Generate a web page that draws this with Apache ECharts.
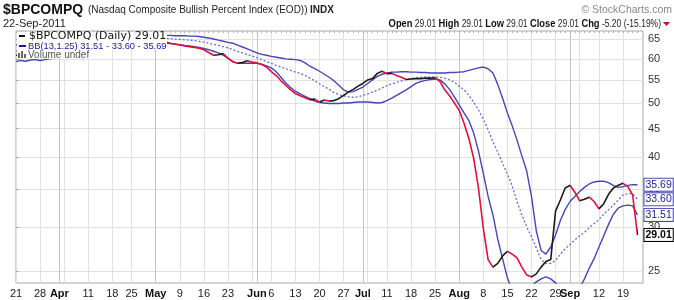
<!DOCTYPE html>
<html>
<head>
<meta charset="utf-8">
<title>$BPCOMPQ</title>
<script src="https://cdn.jsdelivr.net/npm/echarts@6.0.0/dist/echarts.min.js"></script>
<style>
  html, body { margin: 0; padding: 0; background: #fff; }
  #chart { width: 674px; height: 300px; }
</style>
</head>
<body>
<div id="chart"></div>
<script>
// trading-day index -> label (Mar 21 .. Sep 22, 2011)
var tickIdx  = [0, 5, 9, 15, 20, 24, 29, 34, 39, 44, 50, 53, 58, 63, 68, 72, 77, 82, 87, 92, 97, 102, 107, 112, 115, 121, 126];
var tickText = ['21', '28', 'Apr', '11', '18', '25', 'May', '9', '16', '23', 'Jun', '6', '13', '20', '27', 'Jul', '11', '18', '25', 'Aug', '8', '15', '22', '29', 'Sep', '12', '19'];
var weekIdx  = [0, 5, 10, 15, 20, 24, 29, 34, 39, 44, 49, 53, 58, 63, 68, 73, 77, 82, 87, 92, 97, 102, 107, 112, 117, 121, 126];
var monthIdx = [9, 29, 50, 72, 92, 115];
var yTicks   = [25, 30, 35, 40, 45, 50, 55, 60, 65];

var price = [
  60.8, 61.2, 61.5, 62.0, 62.5, 62.9, 63.3, 63.6, 63.9, 64.2,
  64.3, 64.5, 64.4, 64.6, 64.8, 64.7, 64.9, 65.0, 64.8, 64.9,
  64.7, 64.9, 65.0, 65.1, 65.0, 64.9, 65.0, 64.8, 64.7,
  64.6, 64.5, 64.4, 64.0, 63.7, 63.5, 63.3, 63.1, 62.9, 62.7,
  62.3, 61.6, 60.9, 61.0, 61.3, 60.2, 59.3, 58.9, 59.1, 59.5,
  59.2, 59.0, 58.6, 58.0, 56.9, 56.0, 54.8, 53.8, 52.8, 52.0,
  51.5, 51.1, 50.7, 50.8, 50.2, 50.6, 50.4, 50.5, 50.9, 51.6,
  52.3, 52.9, 53.6, 54.2, 55.0, 55.3, 56.5, 57.0, 56.4, 56.5,
  56.0, 55.6, 55.1, 55.2, 55.3, 55.3, 55.4, 55.4, 55.5, 54.6,
  52.8, 51.5, 50.0, 48.5, 46.0, 43.2, 39.8, 35.2, 29.8, 26.2,
  25.4, 25.8, 26.6, 27.1, 26.8, 26.4, 25.4, 24.6, 24.4, 24.7,
  25.4, 26.0, 26.2, 32.0, 33.5, 35.2, 35.6, 34.6, 33.4, 33.6,
  33.9, 33.3, 32.3, 33.0, 34.3, 35.2, 35.6, 35.9, 35.4, 34.21, 29.01
];
var bbUpper = [
  63.5, 63.8, 64.0, 64.2, 64.5, 64.8, 65.1, 65.4, 65.6, 65.8,
  66.0, 66.1, 66.2, 66.2, 66.3, 66.3, 66.4, 66.4, 66.4, 66.3,
  66.3, 66.3, 66.3, 66.2, 66.2, 66.2, 66.1, 66.1, 66.1, 66.1, 66.1,
  66.1, 66.1, 66.0, 66.0, 66.0, 65.9, 65.9, 65.8, 65.6, 65.4,
  65.1, 64.8, 64.5, 64.2, 64.0, 63.5, 63.0, 62.5, 62.0, 61.5,
  61.1, 60.9, 60.6, 60.4, 60.2, 60.0, 59.9, 59.8, 59.6, 59.0,
  58.2, 57.6, 57.0, 56.3, 55.6, 54.8, 53.8, 52.8, 52.3, 52.4,
  52.9, 53.4, 54.2, 55.0, 55.8, 56.3, 56.6, 56.8, 56.8, 56.9,
  56.9, 56.8, 56.8, 56.7, 56.7, 56.6, 56.6, 56.6, 56.6, 56.7,
  56.7, 56.8, 56.9, 57.2, 57.5, 57.8, 58.0, 57.6, 56.6, 54.0,
  51.0, 48.0, 45.5, 42.9, 40.2, 37.8, 34.0, 29.5, 27.2, 26.8,
  27.6, 29.0, 30.8, 32.2, 33.3, 34.0, 34.7, 35.3, 35.8, 36.1,
  36.2, 36.2, 36.0, 35.6, 35.3, 35.4, 35.6, 35.7, 35.69
];
var bbMiddle = [
  62.0, 62.3, 62.6, 62.9, 63.2, 63.5, 63.8, 64.0, 64.3, 64.5,
  64.7, 64.9, 65.0, 65.1, 65.2, 65.3, 65.3, 65.4, 65.4, 65.4, 65.4,
  65.4, 65.4, 65.4, 65.4, 65.4, 65.4, 65.4, 65.4, 65.4, 65.3,
  65.3, 65.2, 65.1, 65.0, 64.9, 64.8, 64.7, 64.5, 64.3, 64.0,
  63.7, 63.4, 63.1, 62.8, 62.3, 61.9, 61.5, 61.1, 60.7, 60.3,
  59.8, 59.3, 58.9, 58.4, 58.0, 57.6, 57.2, 56.8, 56.5, 56.0,
  55.4, 54.8, 54.1, 53.5, 52.9, 52.2, 51.8, 51.5, 51.3, 51.2,
  51.3, 51.6, 51.9, 52.3, 52.7, 53.2, 53.7, 54.1, 54.4, 54.8,
  55.1, 55.3, 55.5, 55.6, 55.7, 55.7, 55.7, 55.6, 55.4, 55.0,
  54.5, 53.6, 52.8, 51.6, 50.2, 48.6, 46.8, 44.8, 42.6, 40.8,
  39.0, 37.3, 35.5, 33.3, 31.5, 30.0, 28.8, 27.5, 26.2, 25.8,
  25.8, 26.1, 26.8, 27.4, 27.9, 28.4, 28.9, 29.3, 29.9, 30.4,
  30.9, 31.6, 32.2, 32.8, 33.5, 34.2, 34.4, 34.4, 33.60
];
var bbLower = [
  59.3, 59.6, 59.4, 59.7, 59.8, 59.6, 59.8, 60.0, 60.2, 60.4,
  61.0, 61.6, 62.2, 62.6, 62.9, 63.2, 63.3, 63.5, 63.6, 63.7, 63.7,
  63.8, 63.8, 63.9, 63.9, 64.0, 64.0, 64.1, 64.1, 64.1, 64.1,
  64.0, 63.9, 63.8, 63.6, 63.4, 63.3, 63.1, 62.9, 62.6, 62.3,
  61.9, 61.5, 60.9, 60.1, 59.3, 58.9, 58.9, 58.9, 58.9, 58.9,
  58.7, 58.3, 57.8, 56.9, 55.6, 54.3, 53.3, 52.5, 51.9, 51.4,
  50.9, 50.4, 50.1, 50.0, 49.9, 49.9, 49.9, 50.0, 50.0, 50.1,
  50.2, 50.2, 50.2, 50.1, 50.0, 50.1, 50.5, 51.0, 51.6, 52.2,
  52.8, 53.5, 54.2, 54.6, 54.9, 55.1, 55.2, 55.0, 54.1, 52.9,
  51.3, 49.6, 48.0, 46.5, 44.2, 41.0, 37.4, 34.0, 31.5, 28.5,
  26.3, 24.3, 23.0, 22.4, 22.5, 23.0, 23.5, 23.9, 24.2, 24.4,
  24.2, 23.8, 23.2, 22.5, 22.2, 22.5, 23.3, 24.2, 25.3, 26.3,
  27.6, 28.9, 30.3, 31.6, 32.4, 32.7, 32.8, 32.7, 31.51
];

var RED = '#e0103a', BLACK = '#1a1a1a', BAND = '#4646b4', MID = '#6a6ad2';
var FONT = '"Liberation Sans", Arial, sans-serif';
var monthNames = ['Apr', 'May', 'Jun', 'Jul', 'Aug', 'Sep'];

function pairs(arr) {
  return arr.map(function (v, i) { return [i, v]; });
}
var dayIdx = price.map(function (v, i) { return i; });

// colour each price segment by direction (up black, down red)
var pieces = [];
for (var i = 1; i < price.length; i++) {
  var p = { gte: i - 1, color: price[i] < price[i - 1] ? RED : BLACK };
  if (i === price.length - 1) p.lte = i; else p.lt = i;
  pieces.push(p);
}

function tag(color, border, bold) {
  return {
    show: true,
    formatter: function (prm) { return prm.value[1].toFixed(2); },
    distance: 7,
    color: color,
    fontFamily: FONT,
    fontSize: 10.5,
    fontWeight: bold ? 'bold' : 'normal',
    backgroundColor: '#fff',
    borderColor: border,
    borderWidth: 1,
    padding: [0, 1],
    lineHeight: 12
  };
}

var xBase = { type: 'value', min: 0, max: 130.15, gridIndex: 0 };

var myChart = echarts.init(document.getElementById('chart'), null, { renderer: 'canvas' });
var option = {
  animation: false,
  backgroundColor: '#fff',
  grid: {
    left: 16, right: 31, top: 31, bottom: 17,
    show: true, borderColor: '#a8a8a8', borderWidth: 1,
    outerBoundsMode: 'none'
  },
  xAxis: [
    Object.assign({}, xBase, {
      axisLine: { show: false },
      axisTick: { show: false, customValues: tickIdx },
      splitLine: { show: false },
      axisLabel: {
        customValues: tickIdx,
        margin: 5,
        color: '#222',
        fontFamily: FONT,
        fontSize: 11,
        formatter: function (v) {
          var t = tickText[tickIdx.indexOf(Math.round(v))];
          if (t === undefined) return '';
          return monthNames.indexOf(t) >= 0 ? '{m|' + t + '}' : t;
        },
        rich: { m: { fontWeight: 'bold', fontSize: 11, fontFamily: FONT, color: '#111' } }
      }
    }),
    Object.assign({}, xBase, {
      axisLine: { show: false },
      axisLabel: { show: false },
      axisTick: { show: false, customValues: weekIdx },
      splitLine: { show: true, lineStyle: { color: '#e2e2e2', width: 1 } }
    }),
    Object.assign({}, xBase, {
      axisLine: { show: false },
      axisLabel: { show: false },
      axisTick: { show: false, customValues: monthIdx },
      splitLine: { show: true, lineStyle: { color: '#c4c4c4', width: 1 } }
    }),
    Object.assign({}, xBase, {
      axisLine: { show: false },
      axisLabel: { show: false },
      axisTick: { show: true, inside: true, length: 2, customValues: dayIdx, lineStyle: { color: '#b0b0b0' } },
      splitLine: { show: false }
    })
  ],
  yAxis: {
    type: 'log',
    position: 'right',
    min: 23.79,
    max: 67.3,
    axisLine: { show: false },
    axisTick: { show: true, length: 3, customValues: yTicks, lineStyle: { color: '#a8a8a8' } },
    axisLabel: { customValues: yTicks, margin: 5, color: '#333', fontFamily: FONT, fontSize: 11 },
    splitLine: { show: true, lineStyle: { color: '#e2e2e2', width: 1 } }
  },
  visualMap: {
    show: false,
    type: 'piecewise',
    seriesIndex: 3,
    dimension: 0,
    pieces: pieces,
    outOfRange: { color: BLACK }
  },
  series: [
    {
      name: 'BB upper', type: 'line', data: pairs(bbUpper), symbol: 'none',
      lineStyle: { color: BAND, width: 1.4 }, z: 3,
      endLabel: tag('#1a1a8c', '#4646b4', false)
    },
    {
      name: 'BB middle', type: 'line', data: pairs(bbMiddle), symbol: 'none',
      lineStyle: { color: MID, width: 1.3, type: [2, 2] }, z: 3,
      endLabel: tag('#1a1a8c', '#4646b4', false)
    },
    {
      name: 'BB lower', type: 'line', data: pairs(bbLower), symbol: 'none',
      lineStyle: { color: BAND, width: 1.4 }, z: 3,
      endLabel: tag('#1a1a8c', '#4646b4', false)
    },
    {
      name: '$BPCOMPQ', type: 'line', data: pairs(price), symbol: 'none',
      lineStyle: { width: 1.6 }, z: 4,
      endLabel: tag('#000', '#000', true)
    }
  ],
  graphic: [
    { type: 'text', x: 3, y: 10, style: {
        text: '$BPCOMPQ', verticalAlign: 'middle',
        fontFamily: FONT, fontSize: 14, fontWeight: 'bold', fill: '#111'
      } },
    { type: 'text', x: 88, y: 10.5, style: {
        text: '(Nasdaq Composite Bullish Percent Index (EOD))', verticalAlign: 'middle',
        fontFamily: FONT, fontSize: 10, fill: '#222'
      } },
    { type: 'text', x: 310, y: 10.5, style: {
        text: 'INDX', verticalAlign: 'middle',
        fontFamily: FONT, fontSize: 10, fontWeight: 'bold', fill: '#222'
      } },
    { type: 'text', x: 672, y: 10, style: {
        text: '\u00a9 StockCharts.com', align: 'right', verticalAlign: 'middle',
        fontFamily: FONT, fontSize: 10.5, fill: '#888'
      } },
    { type: 'text', x: 3, y: 24, style: {
        text: '22-Sep-2011', verticalAlign: 'middle',
        fontFamily: FONT, fontSize: 11, fill: '#222'
      } },
    { type: 'text', x: 661, y: 24, scaleX: 0.85, style: {
        text: '{b|Open} 29.01 {b|High} 29.01 {b|Low} 29.01 {b|Close} 29.01 {b|Chg} -5.20 (-15.19%)',
        align: 'right', verticalAlign: 'middle',
        fontFamily: FONT, fontSize: 10, fill: '#222',
        rich: { b: { fontFamily: FONT, fontSize: 11, fontWeight: 'bold', fill: '#111' } }
      } },
    { type: 'polygon', shape: { points: [[663, 22], [670, 22], [666.5, 26]] }, style: { fill: '#c0103a' } },

    // legend box
    { type: 'rect', shape: { x: 17, y: 32, width: 150, height: 18 }, style: { fill: '#fff' }, z: 10 },
    { type: 'rect', shape: { x: 17, y: 50, width: 74, height: 9 }, style: { fill: '#fff' }, z: 10 },
    { type: 'rect', shape: { x: 19, y: 35, width: 6, height: 2 }, style: { fill: '#111' }, z: 11 },
    { type: 'text', x: 29, y: 36.5, z: 11, style: {
        text: '$BPCOMPQ (Daily) 29.01', verticalAlign: 'middle',
        fontFamily: '"DejaVu Sans", Verdana, sans-serif', fontSize: 11, fill: '#111'
      } },
    { type: 'rect', shape: { x: 19, y: 45, width: 7, height: 2 }, style: { fill: '#1a1a8c' }, z: 11 },
    { type: 'text', x: 28, y: 46, z: 11, style: {
        text: 'BB(13,1.25) 31.51 - 33.60 - 35.69', verticalAlign: 'middle',
        fontFamily: FONT, fontSize: 9.3, fill: '#1a1a9c'
      } },
    { type: 'rect', shape: { x: 18, y: 53, width: 2, height: 5 }, style: { fill: '#666' }, z: 11 },
    { type: 'rect', shape: { x: 21, y: 51, width: 2, height: 7 }, style: { fill: '#666' }, z: 11 },
    { type: 'rect', shape: { x: 24, y: 54, width: 2, height: 4 }, style: { fill: '#666' }, z: 11 },
    { type: 'text', x: 28, y: 55.5, z: 11, style: {
        text: 'Volume undef', verticalAlign: 'middle',
        fontFamily: FONT, fontSize: 10, fill: '#555'
      } }
  ]
};
myChart.setOption(option);
</script>
</body>
</html>
